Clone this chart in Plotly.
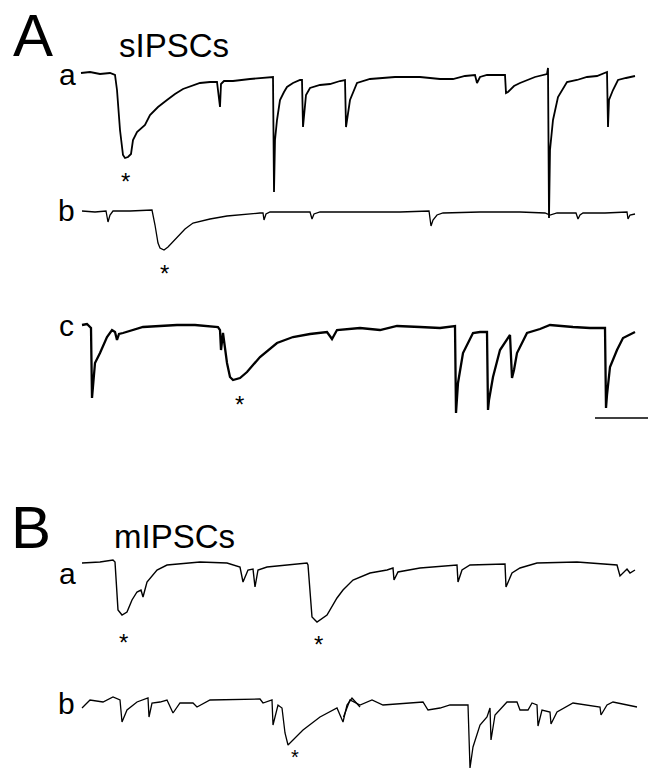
import plotly.graph_objects as go

# ---- trace data (time axis in px units, current in px, y down) ----
aa_x = [81, 90, 100, 110, 115, 117, 120, 123, 125, 128, 131, 133, 137, 145, 150, 158, 167, 175, 183, 192, 200, 210, 217, 220, 221, 224, 233, 250, 267, 273, 274, 275, 277, 280, 284, 287, 293, 300, 302, 303, 306, 310, 320,
        330, 340, 345, 346, 350, 357, 370, 395, 420, 440, 453, 465, 475, 477, 480, 487, 505, 506, 508, 514, 520, 535, 547, 548, 549, 550, 553, 558, 567, 577, 587, 597, 607, 608, 609, 613, 618, 626, 635]
aa_y = [73, 72, 74, 73, 75, 90, 130, 155, 158, 157, 154, 140, 132, 125, 115, 107, 100, 94, 89, 86, 83, 82, 82, 107, 84, 81, 81, 79, 78, 77, 192, 140, 120, 100, 92, 87, 83, 80, 80, 127, 95, 88, 85,
        84, 81, 80, 127, 100, 83, 79, 77, 77, 79, 79, 76, 75, 83, 77, 75, 75, 93, 92, 86, 83, 77, 74, 68, 218, 150, 120, 97, 82, 80, 77, 76, 72, 127, 100, 90, 80, 78, 76]

ab_x = [82, 95, 106, 108, 110, 113, 130, 152, 155, 158, 160, 164, 168, 177, 185, 193, 210, 227, 245, 260, 263, 264, 266, 270, 290, 310, 312, 314, 320, 360,
        400, 429, 431, 433, 437, 443, 480, 520, 545, 550, 557, 576, 578, 580, 583, 605, 627, 628, 630, 635]
ab_y = [211, 212, 211, 222, 215, 211, 211, 210, 225, 243, 248, 250, 247, 237, 229, 223, 219, 216, 214, 213, 213, 220, 214, 212, 212, 212, 219, 214, 212, 212,
        212, 211, 226, 220, 215, 213, 212, 212, 213, 215, 213, 213, 219, 215, 213, 213, 212, 219, 215, 214]

ac_x = [82, 87, 91, 92, 95, 100, 107, 112, 115, 117, 119, 123, 143, 160, 177, 195, 210, 218, 220, 221, 223, 227, 230, 233, 240, 247, 260, 277, 293, 310, 327, 332, 337, 360,
        380, 397, 420, 440, 455, 456, 458, 463, 473, 480, 487, 488, 489, 493, 500, 510, 512, 514, 517, 527, 540, 550, 573, 590, 605, 606, 607, 610, 617, 623, 635]
ac_y = [325, 324, 328, 398, 363, 353, 337, 330, 332, 340, 334, 333, 327, 326, 325, 325, 326, 327, 330, 350, 333, 363, 377, 380, 378, 372, 357, 343, 337, 334, 332, 339, 330, 328,
        330, 326, 327, 328, 326, 413, 383, 353, 333, 332, 332, 410, 400, 377, 350, 335, 378, 370, 353, 333, 329, 325, 327, 328, 328, 408, 395, 367, 350, 338, 332]

ba_x = [82, 100, 113, 115, 118, 122, 127, 132, 137, 141, 143, 147, 157, 167, 200, 227, 240, 243, 248, 253, 255, 258, 267, 307, 308, 312, 317, 327, 337, 343, 353, 370, 387, 393, 394, 398, 420, 457, 458, 462, 470, 505, 506, 512, 520, 537, 577, 617, 620, 627, 630, 635]
ba_y = [563, 562, 560, 562, 610, 615, 612, 600, 592, 590, 597, 582, 570, 565, 562, 563, 567, 582, 570, 569, 587, 570, 567, 563, 565, 617, 622, 615, 598, 590, 580, 573, 570, 568, 580, 572, 568, 565, 582, 570, 565, 564, 587, 573, 568, 563, 562, 565, 576, 569, 573, 570]

bb_x = [82, 90, 103, 113, 120, 122, 127, 137, 148, 149, 152, 160, 167, 173, 180, 193, 197, 210, 260, 263, 272, 273, 278, 282, 285, 288, 293, 303, 320, 337, 343, 347, 352, 360,
        343.5, 350, 360, 372, 383, 423, 428, 440, 450, 468, 470, 471, 473, 480, 487, 490, 491, 495, 507, 517, 520, 528, 532, 537, 538, 542, 550, 551, 557, 573, 600, 601, 607, 613, 637]
bb_y = [708, 700, 702, 697, 700, 722, 710, 702, 698, 717, 703, 702, 700, 713, 703, 703, 707, 700, 699, 703, 700, 725, 705, 708, 733, 745, 740, 730, 717, 708, 722, 705, 698, 707,
        717, 700, 705, 700, 705, 702, 710, 708, 705, 705, 768, 760, 747, 725, 717, 708, 740, 715, 702, 702, 710, 710, 703, 705, 726, 710, 712, 724, 712, 703, 707, 715, 705, 702, 707]

traces = [
    (aa_x, aa_y, 1.8),
    (ab_x, ab_y, 1.3),
    (ac_x, ac_y, 2.3),
    (ba_x, ba_y, 1.4),
    (bb_x[:34], bb_y[:34], 1.3),
    (bb_x[34:], bb_y[34:], 1.3),
]

panel_labels = ["A", "B"]
panel_titles = ["sIPSCs", "mIPSCs"]
row_labels = ["a", "b", "c", "a", "b"]
star_x = [125, 164, 239, 123, 318, 295]
star_y = [177, 269, 400, 638, 640, 757]

fig = go.Figure()
for x, y, w in traces:
    fig.add_trace(go.Scatter(x=x, y=y, mode="lines", line=dict(color="black", width=w),
                             hoverinfo="skip", showlegend=False))

font = "Liberation Sans, Arial, sans-serif"
ann = []
for lab, (x, y) in zip(panel_labels, [(33, 35), (31, 527)]):
    ann.append(dict(x=x, y=y, text=lab, font=dict(size=60, family=font, color="black")))
for t, (x, y) in zip(panel_titles, [(174, 45), (174, 536)]):
    ann.append(dict(x=x, y=y, text=t, font=dict(size=33, family=font, color="black")))
for t, (x, y) in zip(row_labels, [(67, 74), (66, 210), (66, 325), (67, 573), (66, 703)]):
    ann.append(dict(x=x, y=y, text=t, font=dict(size=30, family=font, color="black")))
for a in ann:
    a.update(yanchor="middle")
for x, y in zip(star_x, star_y):
    if y > 740:
        # keep the whole text box inside the page near the bottom edge
        ann.append(dict(x=x, y=770, text="*", yanchor="bottom",
                        font=dict(size=20, family=font, color="black")))
    else:
        ann.append(dict(x=x, y=y + 4, text="*", yanchor="middle",
                        font=dict(size=24, family=font, color="black")))
for a in ann:
    a.update(xref="x", yref="y", showarrow=False, xanchor="center")

fig.update_layout(
    width=649, height=770, margin=dict(l=0, r=0, t=0, b=0),
    paper_bgcolor="white", plot_bgcolor="white",
    xaxis=dict(range=[0, 649], visible=False, fixedrange=True),
    yaxis=dict(range=[770, 0], visible=False, fixedrange=True),
    annotations=ann,
    shapes=[dict(type="line", xref="x", yref="y", x0=595, x1=648, y0=418, y1=418,
                 line=dict(color="black", width=1.5))],
)
fig.write_html("out.html")
